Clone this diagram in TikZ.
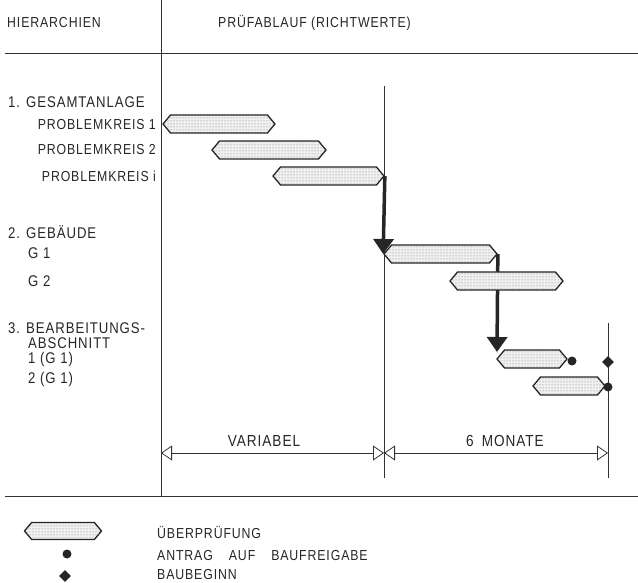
\documentclass[tikz,border=0pt]{standalone}
\usepackage{fontspec}
\setmainfont[FakeStretch=0.85,LetterSpace=6]{Liberation Sans}
\usetikzlibrary{shapes.symbols,shapes.geometric,arrows.meta,patterns}
\begin{document}
\begin{tikzpicture}[x=1pt,y=-1pt,
  lbl/.style={inner sep=0pt,font=\fontsize{14.5}{14.5}\selectfont,text=black!85},
  hdr/.style={inner sep=0pt,font=\fontsize{15.5}{15.5}\selectfont,text=black!85},
  dlbl/.style={inner sep=0pt,font=\fontsize{16}{16}\selectfont,text=black!85},
  thin/.style={line width=0.7pt,draw=black!80},
  bar/.style={signal,signal to=east and west,signal pointer angle=100,
    draw=black!85,line width=1.3pt,preaction={fill=black!6},
    pattern=dots,pattern color=black!55,inner sep=0pt,minimum height=18pt},
  bigarrow/.style={line width=3.5pt,draw=black!85,-{Triangle[width=20pt,length=15pt]}},
  dim/.style={line width=0.7pt,draw=black!80,{Triangle[open,width=15pt,length=11pt,line width=0.8pt]}-{Triangle[open,width=15pt,length=11pt,line width=0.8pt]}},
  dot/.style={circle,fill=black!85,inner sep=0pt,minimum size=9pt},
  diam/.style={diamond,fill=black!85,inner sep=0pt,minimum size=12pt}]
\useasboundingbox (0,0) rectangle (638,583);
% frame lines
\coordinate (vtop) at (161,0);
\coordinate (vbot) at (161,496);
\coordinate (htl) at (5,53);
\coordinate (htr) at (638,53);
\coordinate (hbl) at (5,496);
\coordinate (hbr) at (638,496);
\draw[thin] (vtop) -- (vbot);
\draw[thin] (htl) -- (htr);
\draw[thin] (hbl) -- (hbr);
\coordinate (m1t) at (384,86);
\coordinate (m1b) at (384,478);
\draw[thin] (m1t) -- (m1b);
\coordinate (m2t) at (608,323);
\coordinate (m2b) at (608,478);
\draw[thin] (m2t) -- (m2b);
% header
\node[lbl,anchor=west] (h1) at (7,23) {HIERARCHIEN};
\node[lbl,anchor=west] (h2) at (218,23) {PRÜFABLAUF (RICHTWERTE)};
% left labels
\node[hdr,anchor=west] (l1) at (8,102) {1. GESAMTANLAGE};
\node[lbl,anchor=east] (l1a) at (156,125) {PROBLEMKREIS 1};
\node[lbl,anchor=east] (l1b) at (156,150) {PROBLEMKREIS 2};
\node[lbl,anchor=east] (l1c) at (156,176) {PROBLEMKREIS i};
\node[hdr,anchor=west] (l2) at (8,232) {2. GEBÄUDE};
\node[hdr,anchor=west] (l2a) at (28,253) {G 1};
\node[hdr,anchor=west] (l2b) at (28,281) {G 2};
\node[hdr,anchor=west] (l3) at (8,328) {3. BEARBEITUNGS-};
\node[hdr,anchor=west] (l3x) at (28,343) {ABSCHNITT};
\node[hdr,anchor=west] (l3a) at (28,359) {1 (G 1)};
\node[hdr,anchor=west] (l3b) at (28,379) {2 (G 1)};
% bars
\node[bar,minimum width=112pt] (pk1) at (219,124) {};
\node[bar,minimum width=114pt] (pk2) at (269,150) {};
\node[bar,minimum width=111pt] (pki) at (328.5,176) {};
\node[bar,minimum width=113pt] (g1) at (440.5,254) {};
\draw[bigarrow] (pki.east) -- (g1.west);
\draw[bigarrow] (g1.east) -- (497,352);
\node[bar,minimum width=113pt] (g2) at (506.5,281) {};
\node[bar,minimum width=70pt] (ba1) at (532,359) {};
\node[bar,minimum width=72pt] (ba2) at (569,386) {};
\node[dot] (d1) at (572,361) {};
\node[dot] (d2) at (608,387) {};
\node[diam] (r1) at (608,362) {};
% dimensions
\coordinate (da) at (161,453);
\coordinate (db) at (384,453);
\coordinate (dc) at (608,453);
\draw[dim] (da) -- (db);
\draw[dim] (db) -- (dc);
\node[dlbl] (t1) at (264,441) {VARIABEL};
\node[dlbl] (t2) at (505,441) {6\hspace{8pt}MONATE};
% legend
\node[bar,minimum width=77pt,minimum height=17pt] (lg1) at (63,531) {};
\node[dot] (lg2) at (67,554) {};
\node[diam] (lg3) at (65,576) {};
\node[lbl,anchor=west] (lt1) at (157,533) {ÜBERPRÜFUNG};
\node[lbl,anchor=west] (lt2) at (157,556) {ANTRAG\hspace{16pt}AUF\hspace{16pt}BAUFREIGABE};
\node[lbl,anchor=west] (lt3) at (157,575) {BAUBEGINN};
\end{tikzpicture}
\end{document}
